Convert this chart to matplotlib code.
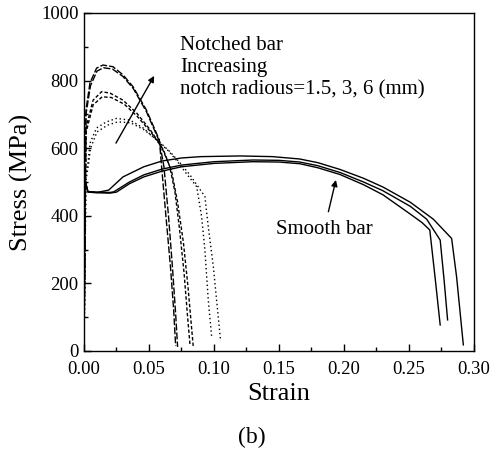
#!/usr/bin/env python3
"""
plot.py - stress-strain curves of smooth and notched bars (panel b).
"""

import matplotlib
matplotlib.use('Agg')
import matplotlib.pyplot as plt

plt.rcParams['font.family'] = ['Liberation Serif', 'DejaVu Serif']

# Smooth bar, three specimens
smooth_1_strain = [0, 0.0005, 0.003, 0.01, 0.02, 0.025, 0.035, 0.046, 0.06, 0.075, 0.10,
                   0.13, 0.15, 0.166, 0.18, 0.197, 0.215, 0.23, 0.251, 0.26, 0.266,
                   0.270, 0.274]
smooth_1_stress = [0, 505, 470, 468, 467, 470, 495, 515, 532, 545, 555,
                   560, 559, 554, 542, 522, 492, 462, 405, 380, 358,
                   220, 77]

smooth_2_strain = [0, 0.0005, 0.003, 0.01, 0.02, 0.023, 0.035, 0.046, 0.06, 0.075, 0.10,
                   0.13, 0.15, 0.166, 0.18, 0.197, 0.215, 0.23, 0.251, 0.2636, 0.274,
                   0.277, 0.2797]
smooth_2_stress = [0, 510, 472, 470, 469, 471, 500, 521, 538, 550, 560,
                   565, 564, 559, 548, 528, 500, 474, 428, 390, 328,
                   210, 92]

smooth_3_strain = [0, 0.0005, 0.003, 0.01, 0.019, 0.03, 0.046, 0.06, 0.075, 0.09, 0.12,
                   0.145, 0.166, 0.18, 0.197, 0.215, 0.23, 0.251, 0.2687, 0.2828,
                   0.2866, 0.2918]
smooth_3_stress = [0, 512, 471, 469, 476, 515, 545, 562, 571, 575, 577,
                   575, 568, 557, 537, 511, 485, 440, 390, 333,
                   220, 18]

# Notched bars, radius 1.5 mm (long dash)
r15_a_strain = [0, 0.0015, 0.0046, 0.0097, 0.0146, 0.0223, 0.030, 0.0377, 0.048, 0.058,
                0.0597, 0.063, 0.0665, 0.069, 0.0705]
r15_a_stress = [0, 713, 793, 837, 846, 841, 817, 782, 713, 624,
                545, 400, 250, 120, 15]
r15_b_strain = [0, 0.0015, 0.005, 0.010, 0.015, 0.022, 0.030, 0.038, 0.048, 0.058,
                0.0615, 0.065, 0.068, 0.0705, 0.072]
r15_b_stress = [0, 700, 785, 828, 838, 834, 812, 776, 708, 620,
                545, 400, 250, 110, 12]

# radius 3 mm (medium dash)
r3_a_strain = [0, 0.0015, 0.007, 0.0135, 0.020, 0.030, 0.0405, 0.051, 0.0597,
               0.066, 0.070, 0.0735, 0.077, 0.0795, 0.0815]
r3_a_stress = [0, 660, 742, 767, 763, 742, 704, 654, 604,
               545, 470, 360, 230, 110, 20]
r3_b_strain = [0, 0.0015, 0.007, 0.014, 0.021, 0.031, 0.041, 0.052, 0.061,
               0.0675, 0.072, 0.0765, 0.080, 0.0825, 0.084]
r3_b_stress = [0, 645, 728, 752, 750, 730, 694, 645, 596,
               530, 440, 320, 190, 80, 15]

# radius 6 mm (dotted)
r6_a_strain = [0, 0.0015, 0.0033, 0.0046, 0.0097, 0.0174, 0.025, 0.0354, 0.0454, 0.056,
               0.065, 0.072, 0.0777, 0.0867, 0.0905, 0.093, 0.0956, 0.0982]
r6_a_stress = [0, 520, 565, 615, 660, 678, 688, 683, 660, 624,
               592, 560, 530, 486, 397, 299, 151, 42]
r6_b_strain = [0, 0.0015, 0.0035, 0.005, 0.010, 0.018, 0.026, 0.036, 0.046, 0.057,
               0.066, 0.074, 0.0815, 0.093, 0.0956, 0.0995, 0.1025, 0.105]
r6_b_stress = [0, 505, 552, 600, 648, 668, 678, 675, 655, 622,
               590, 556, 521, 457, 368, 249, 131, 33]

x_ticks = [0.00, 0.05, 0.10, 0.15, 0.20, 0.25, 0.30]
y_ticks = [0, 200, 400, 600, 800, 1000]

fig = plt.figure(figsize=(4.97, 4.49), dpi=100)
ax = fig.add_axes([0.169, 0.2183, 0.7847, 0.7528])

# smooth bars
for sx, sy in [(smooth_1_strain, smooth_1_stress),
               (smooth_2_strain, smooth_2_stress),
               (smooth_3_strain, smooth_3_stress)]:
    ax.plot(sx, sy, color='black', lw=1.0)

# notched bars
for sx, sy in [(r15_a_strain, r15_a_stress), (r15_b_strain, r15_b_stress)]:
    ax.plot(sx, sy, color='black', lw=1.0, dashes=(5, 1.5))
for sx, sy in [(r3_a_strain, r3_a_stress), (r3_b_strain, r3_b_stress)]:
    ax.plot(sx, sy, color='black', lw=1.0, dashes=(2.5, 1.5))
for sx, sy in [(r6_a_strain, r6_a_stress), (r6_b_strain, r6_b_stress)]:
    ax.plot(sx, sy, color='black', lw=1.0, dashes=(1, 2))

arrow = dict(arrowstyle='-|>', color='black', lw=1.0, mutation_scale=9,
             shrinkA=0, shrinkB=0)
ax.annotate('', xy=(0.054, 814), xytext=(0.0246, 615), arrowprops=arrow)
ax.annotate('', xy=(0.1938, 506), xytext=(0.188, 412), arrowprops=arrow)

ax.text(0.0738, 838, 'Notched bar\nIncreasing\nnotch radious=1.5, 3, 6 (mm)',
        fontsize=15, ha='left', va='center', linespacing=1.25)
ax.text(0.1477, 358, 'Smooth bar', fontsize=15, ha='left', va='center')

ax.set_xlim(0, 0.30)
ax.set_ylim(0, 1000)
ax.set_xticks(x_ticks)
ax.set_xticklabels([f'{t:.2f}' for t in x_ticks])
ax.set_yticks(y_ticks)
ax.set_xticks([0.025, 0.075, 0.125, 0.175, 0.225, 0.275], minor=True)
ax.set_yticks([100, 300, 500, 700, 900], minor=True)
ax.tick_params(which='major', direction='in', length=5, width=1.0,
               labelsize=13.5)
ax.tick_params(which='minor', direction='in', length=3, width=1.0)
ax.tick_params(axis='x', which='major', pad=7)
ax.tick_params(axis='y', which='major', pad=4)
for sp in ax.spines.values():
    sp.set_linewidth(1.0)

ax.set_xlabel('Strain', fontsize=19, labelpad=4)
ax.set_ylabel('Stress (MPa)', fontsize=19, labelpad=6)
fig.text(252 / 497, 1 - 437 / 449, '(b)', fontsize=17, ha='center', va='center')

fig.savefig('out.png', dpi=100)
print("saved out.png")
